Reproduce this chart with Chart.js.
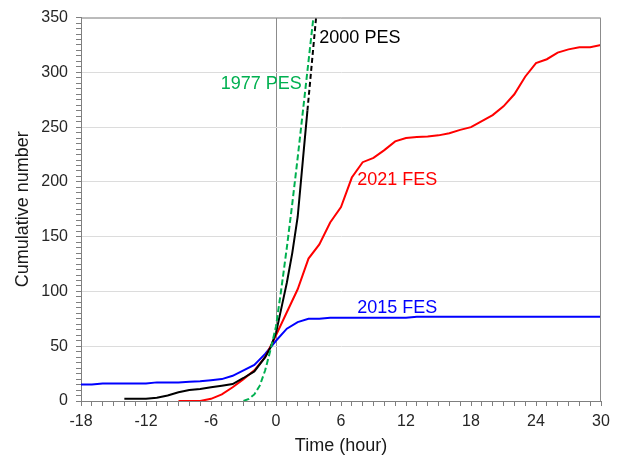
<!DOCTYPE html>
<html>
<head>
<meta charset="utf-8">
<script src="https://cdn.jsdelivr.net/npm/chart.js@4.4.1/dist/chart.umd.min.js"></script>
<style>
  html, body { margin: 0; padding: 0; background: #fff; }
  #wrap { width: 619px; height: 459px; }
</style>
</head>
<body>
<div id="wrap"><canvas id="myChart"></canvas></div>
<script>
// 2015 FES
const hours2015 = [-18, -17, -16, -15, -14, -13, -12, -11, -10, -9, -8, -7, -6, -5, -4, -3, -2, -1, 0, 1, 2, 3, 4, 5, 6, 7, 8, 9, 10, 11, 12, 13, 14, 15, 16, 17, 18, 19, 20, 21, 22, 23, 24, 25, 26, 27, 28, 29, 30];
const counts2015 = [15, 15, 16, 16, 16, 16, 16, 17, 17, 17, 17.5, 18, 19, 20, 23, 28, 33, 43, 55, 66, 72, 75, 75, 76, 76, 76, 76, 76, 76, 76, 76, 77, 77, 77, 77, 77, 77, 77, 77, 77, 77, 77, 77, 77, 77, 77, 77, 77, 77];

// 2021 FES
const hours2021 = [-9, -8, -7, -6, -5, -4, -3, -2, -1, 0, 1, 2, 3, 4, 5, 6, 7, 8, 9, 10, 11, 12, 13, 14, 15, 16, 17, 18, 19, 20, 21, 22, 23, 24, 25, 26, 27, 28, 29, 30];
const counts2021 = [0, 0, 0, 2, 6, 12.5, 20, 28, 40, 60, 81, 102, 130, 143, 163, 177, 204, 218, 222, 229, 237, 240, 241, 241.5, 242.5, 244.5, 247.5, 250, 255.5, 261, 269, 280, 296, 308.5, 312, 318, 321, 323, 323, 325];

// 2000 PES (solid part, then dashed extension)
const hours2000 = [-14, -13, -12, -11, -10, -9, -8, -7, -6, -5, -4, -3, -2, -1, -0.5, 0, 0.5, 1, 1.5, 2, 2.5, 2.9];
const counts2000 = [2, 2, 2, 3, 5, 8, 10, 11, 12.5, 14, 15.5, 21, 27, 40, 49, 62, 85, 108, 135, 168, 222, 265];
const hours2000ext = [2.9, 3.7];
const counts2000ext = [265, 350];

// 1977 PES
const hours1977 = [-3, -2.5, -2, -1.5, -1, -0.5, 0, 0.5, 1, 1.5, 2, 2.5, 3, 3.45];
const counts1977 = [0, 2, 6, 14, 28, 47, 68, 103, 140, 180, 222, 266, 310, 350];

// series labels drawn inside the plot
const labelTexts = ['2015 FES', '2021 FES', '2000 PES', '1977 PES'];
const labelHours = [7.5, 7.5, 4.0, -5.1];
const labelCounts = [85, 202, 331, 289];
const labelColors = ['#0000ff', '#ff0000', '#000000', '#00b050'];

function toPoints(xs, ys) {
    return xs.map((x, i) => ({ x: x, y: ys[i] }));
}

const FONT = "'Liberation Sans', Arial, sans-serif";

const seriesLabels = {
    id: 'seriesLabels',
    afterDatasetsDraw(chart) {
        const c = chart.ctx;
        const xs = chart.scales.x, ys = chart.scales.y;
        c.save();
        c.font = '18px ' + FONT;
        c.textAlign = 'left';
        c.textBaseline = 'middle';
        labelTexts.forEach((t, i) => {
            c.fillStyle = labelColors[i];
            c.fillText(t, xs.getPixelForValue(labelHours[i]), ys.getPixelForValue(labelCounts[i]));
        });
        c.restore();
    }
};

const frame = {
    id: 'frame',
    afterDraw(chart) {
        const a = chart.chartArea;
        const c = chart.ctx;
        c.save();
        c.strokeStyle = '#8c8c8c';
        c.lineWidth = 1;
        c.beginPath();
        c.moveTo(a.left, a.top + 0.5);
        c.lineTo(a.right - 0.5, a.top + 0.5);
        c.lineTo(a.right - 0.5, a.bottom);
        c.stroke();
        c.restore();
    }
};

const ctx = document.getElementById('myChart');
new Chart(ctx, {
    type: 'line',
    data: {
        datasets: [
            {
                label: '1977 PES',
                data: toPoints(hours1977, counts1977),
                borderColor: '#00b050',
                borderDash: [6, 3],
                borderWidth: 2
            },
            {
                label: '2000 PES',
                data: toPoints(hours2000, counts2000),
                borderColor: '#000000',
                borderWidth: 2
            },
            {
                label: '2000 PES ext',
                data: toPoints(hours2000ext, counts2000ext),
                borderColor: '#000000',
                borderDash: [5, 3],
                borderWidth: 2
            },
            {
                label: '2021 FES',
                data: toPoints(hours2021, counts2021),
                borderColor: '#ff0000',
                borderWidth: 2
            },
            {
                label: '2015 FES',
                data: toPoints(hours2015, counts2015),
                borderColor: '#0000ff',
                borderWidth: 2
            }
        ]
    },
    options: {
        responsive: true,
        maintainAspectRatio: false,
        animation: false,
        elements: {
            point: { radius: 0 },
            line: { tension: 0 }
        },
        layout: {
            padding: { top: 16, right: 18, left: 0, bottom: 0 }
        },
        plugins: {
            legend: { display: false },
            tooltip: { enabled: false }
        },
        scales: {
            x: {
                type: 'linear',
                min: -18,
                max: 30,
                afterFit: (scale) => { scale.height = 58; },
                ticks: {
                    stepSize: 1,
                    autoSkip: false,
                    maxRotation: 0,
                    minRotation: 0,
                    padding: 6,
                    color: '#262626',
                    font: { family: FONT, size: 16 },
                    callback: (v) => (v % 6 === 0 ? String(v) : '')
                },
                grid: {
                    color: (c) => (c.tick && c.tick.value === 0 ? '#8c8c8c' : 'rgba(0,0,0,0)'),
                    tickColor: '#7f7f7f',
                    tickLength: 5
                },
                border: { color: '#7f7f7f' },
                title: {
                    display: true,
                    text: 'Time (hour)',
                    color: '#1a1a1a',
                    font: { family: FONT, size: 18 },
                    padding: { top: 4, bottom: 2 }
                }
            },
            y: {
                min: 0,
                max: 350,
                afterFit: (scale) => { scale.width = 81; },
                ticks: {
                    stepSize: 5,
                    autoSkip: false,
                    padding: 8,
                    color: '#262626',
                    font: { family: FONT, size: 16 },
                    callback: (v) => (v % 50 === 0 ? String(v) : '')
                },
                grid: {
                    color: (c) => (c.tick && c.tick.value % 50 === 0 ? '#dcdcdc' : 'rgba(0,0,0,0)'),
                    tickColor: '#7f7f7f',
                    tickLength: 5
                },
                border: { color: '#7f7f7f' },
                title: {
                    display: true,
                    text: 'Cumulative number',
                    color: '#1a1a1a',
                    font: { family: FONT, size: 18 },
                    padding: { top: 12, bottom: 0 }
                }
            }
        }
    },
    plugins: [seriesLabels, frame]
});
</script>
</body>
</html>
